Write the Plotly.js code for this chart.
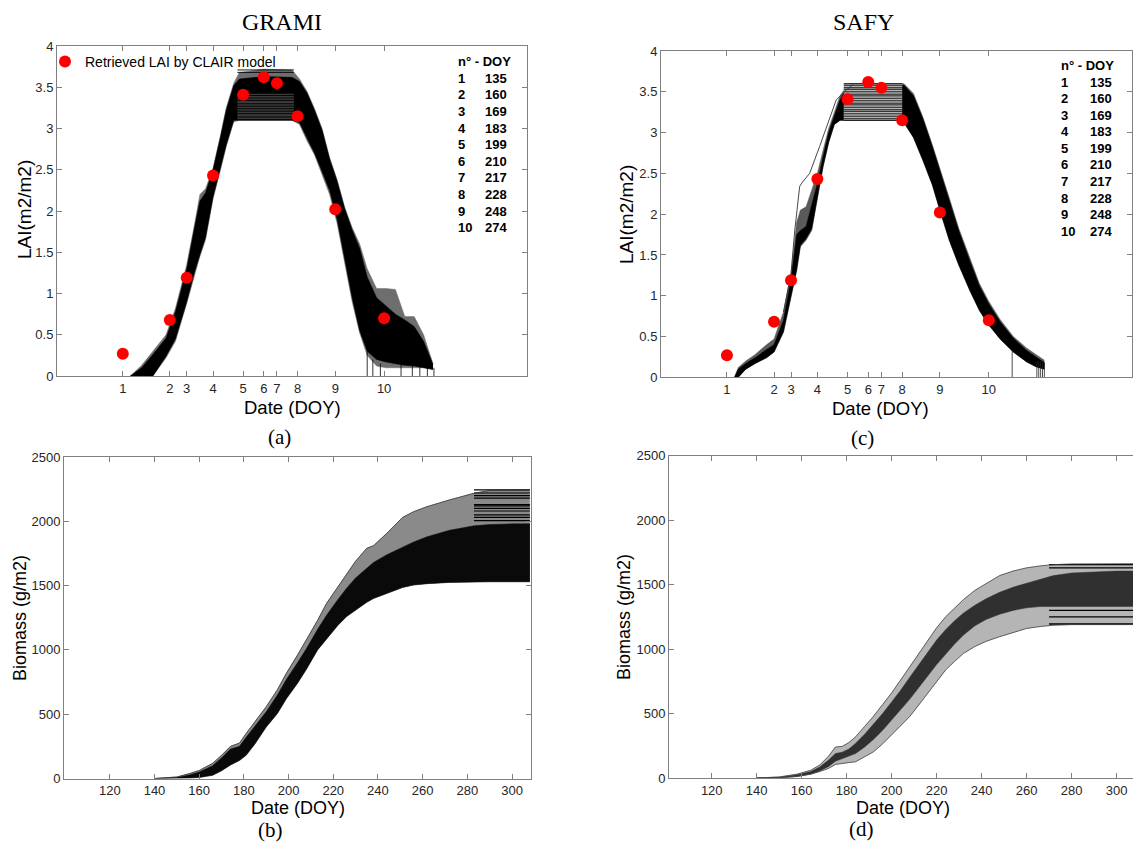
<!DOCTYPE html>
<html><head><meta charset="utf-8">
<script src="https://cdn.plot.ly/plotly-3.0.1.min.js"></script>
<style>html,body{margin:0;padding:0;overflow:hidden;background:#fff}</style>
</head><body><div id="chart" style="width:1150px;height:848px"></div>
<script>
// ---------- DATA ----------
const pointNum = [1,2,3,4,5,6,7,8,9,10];
const pointDOY = [135,160,169,183,199,210,217,228,248,274];
const retrievedLAI = [0.27,0.68,1.19,2.43,3.41,3.62,3.55,3.15,2.02,0.70];

// GRAMI LAI ensemble (envelopes)
const doyA = [139,145,151,158,163,169,173,176,179,183,187,190,194,197,210,225,229,233,237,241,245,249,253,257,261,265,270,275,280,285,290,295,300];
const laiA_outerLo = [0,0,0,0.22,0.42,0.88,1.22,1.45,1.65,2.15,2.5,2.78,3.08,3.1,3.1,3.1,3.05,2.85,2.68,2.45,2.2,1.85,1.38,0.9,0.52,0.25,0.12,0.1,0.1,0.1,0.1,0.1,0.08];
const laiA_outerHi = [0,0.13,0.3,0.5,0.82,1.35,1.82,2.2,2.27,2.52,2.92,3.25,3.55,3.68,3.72,3.71,3.6,3.45,3.24,3.0,2.65,2.38,2.05,1.8,1.6,1.3,1.06,1.06,1.05,0.72,0.72,0.5,0.15];
const laiA_coreLo = [0,0,0,0.24,0.45,0.9,1.25,1.47,1.68,2.17,2.52,2.8,3.1,3.1,3.1,3.1,3.07,2.88,2.7,2.48,2.25,1.9,1.42,0.95,0.55,0.3,0.2,0.17,0.15,0.13,0.12,0.1,0.08];
const laiA_coreHi = [0,0.1,0.26,0.46,0.78,1.3,1.78,2.12,2.22,2.5,2.9,3.22,3.52,3.6,3.63,3.62,3.57,3.43,3.22,2.98,2.63,2.36,2.03,1.77,1.55,1.2,0.95,0.85,0.75,0.68,0.6,0.42,0.14];
const plateauA = {start:196, end:226, lo:3.1, hi:3.42};
const plateauLevelsA = [3.11,3.14,3.18,3.21,3.24,3.27,3.3,3.34,3.37,3.4,3.68,3.71];
const dropA_doy = [265,268,272,283,289,293,297,300.5];
const dropA_from = [0.3,0.2,0.15,0.15,0.2,0.15,0.1,0.1];

// SAFY LAI ensemble
const doyC = [139,141,145,150,156,160,165,169,172,174,177,180,183,186,189,192,195,198,200,227,229,234,239,244,248,253,258,264,269,274,280,287,294,299,303.5];
const laiC_outerLo = [0,0,0.1,0.17,0.24,0.31,0.55,1.0,1.3,1.6,1.68,1.8,2.2,2.58,2.88,3.1,3.15,3.15,3.15,3.15,3.12,2.94,2.66,2.36,2.05,1.68,1.38,1.06,0.82,0.64,0.47,0.31,0.19,0.13,0.1];
const laiC_outerHi = [0,0.12,0.2,0.28,0.4,0.47,0.8,1.27,1.9,2.05,2.09,2.3,2.5,2.78,3.05,3.25,3.45,3.55,3.6,3.6,3.6,3.48,3.19,2.85,2.57,2.2,1.83,1.45,1.15,0.93,0.71,0.5,0.36,0.28,0.21];
const laiC_coreLo = [0,0,0.1,0.17,0.24,0.31,0.56,1.0,1.32,1.62,1.7,1.82,2.2,2.58,2.88,3.1,3.15,3.15,3.15,3.15,3.12,2.94,2.66,2.36,2.05,1.68,1.38,1.06,0.82,0.64,0.47,0.31,0.19,0.13,0.1];
const laiC_coreHi = [0,0.1,0.17,0.24,0.34,0.4,0.7,1.2,1.75,1.8,1.85,2.1,2.38,2.7,3.0,3.2,3.4,3.52,3.58,3.58,3.58,3.45,3.17,2.83,2.53,2.18,1.8,1.42,1.12,0.9,0.68,0.48,0.33,0.25,0.18];
const plateauC = {start:197, end:228, lo:3.15, hi:3.6};
const plateauLevelsC = [3.15,3.17,3.2,3.23,3.26,3.28,3.31,3.34,3.36,3.39,3.42,3.45,3.47,3.5,3.53,3.55,3.58,3.6];
const outlierC_doy = [165,169,171,173.6,175.3,178.9,184.2,189.5,193,198.3,202];
const outlierC_lai = [0.8,1.27,1.8,2.34,2.4,2.5,2.83,3.19,3.4,3.52,3.59];
const dropC_doy = [286.4,299.5,300.5,301.5,302.5,303.5];
const dropC_from = [0.33,0.2,0.2,0.2,0.19,0.18];

// GRAMI biomass ensemble
const doyB = [140,150,156,160,166,170,174,178,181,185,190,195,199,204,208,213,217,222,226,230,235,238,244,251,256,262,272,283,290,300,308];
const bioB_lo = [0,0,3,8,25,60,105,140,180,270,400,505,620,740,850,1000,1085,1190,1260,1310,1370,1400,1440,1485,1505,1515,1525,1530,1530,1530,1530];
const bioB_hi = [0,12,40,62,118,180,250,275,350,440,558,690,818,960,1077,1230,1362,1490,1596,1690,1790,1810,1907,2030,2075,2114,2166,2218,2240,2245,2245];
const bioB_coreHi = [0,8,30,50,100,160,230,250,320,410,520,650,770,900,1010,1160,1270,1390,1480,1560,1640,1680,1740,1800,1840,1880,1930,1965,1975,1980,1980];
const tailLevelsB = [2005,2030,2050,2080,2100,2120,2130,2180,2200,2220,2245];
const tailB = {start:283, end:308};

// SAFY biomass ensemble
const doyD = [140,150,158,164,168,172,175,178,181,184,188,192,196,200,204,208,212,216,220,224,228,232,237,242,248,254,260,266,272,280,290,300,310];
const bioD_lo = [0,2,12,30,50,75,105,114,120,126,165,204,265,334,400,476,565,657,750,838,905,967,1020,1060,1096,1130,1160,1175,1185,1190,1190,1190,1190];
const bioD_hi = [0,8,30,60,100,170,240,245,275,320,400,480,570,660,760,860,965,1070,1165,1250,1320,1385,1455,1510,1570,1605,1630,1645,1655,1660,1662,1662,1662];
const bioD_coreLo = [0,2,12,30,55,90,130,150,165,190,240,300,370,450,530,610,700,790,880,960,1040,1110,1180,1230,1270,1300,1320,1330,1330,1330,1330,1330,1330];
const bioD_coreHi = [0,6,25,50,85,140,190,200,225,270,340,420,500,590,680,780,880,980,1070,1150,1220,1280,1340,1390,1440,1480,1510,1540,1570,1590,1600,1605,1605];
const tailLevelsD = [1195,1250,1300,1630,1655];
const tailD = {start:270, end:310};

const bioTicks = [120,140,160,180,200,220,240,260,280,300];

// ---------- DRAWING ----------
const W = 1150, H = 848;
const PX = v => v / W, PY = v => 1 - v / H;
const FONT = 'Arial, "Liberation Sans", sans-serif';
const SERIF = '"Liberation Serif", "Times New Roman", serif';

function band(xa, ya, x, lo, hi, color) {
  return [
    {type:'scatter', mode:'lines', x:x, y:lo, xaxis:xa, yaxis:ya, line:{color:color, width:0.5}, hoverinfo:'skip', showlegend:false},
    {type:'scatter', mode:'lines', x:x, y:hi, xaxis:xa, yaxis:ya, fill:'tonexty', fillcolor:color, line:{color:color, width:0.5}, hoverinfo:'skip', showlegend:false}
  ];
}
function levels(xa, ya, lv, x0, x1, color, w) {
  const x = [], y = [];
  lv.forEach(l => { x.push(x0, x1, null); y.push(l, l, null); });
  return {type:'scatter', mode:'lines', x, y, xaxis:xa, yaxis:ya, line:{color, width:w}, hoverinfo:'skip', showlegend:false};
}
function drops(xa, ya, dx, from, color) {
  const x = [], y = [];
  dx.forEach((d, i) => { x.push(d, d, null); y.push(from[i], 0, null); });
  return {type:'scatter', mode:'lines', x, y, xaxis:xa, yaxis:ya, line:{color, width:0.8}, hoverinfo:'skip', showlegend:false};
}
function rect(xa, ya, p, color) {
  return {type:'scatter', mode:'lines', x:[p.start,p.end,p.end,p.start,p.start], y:[p.lo,p.lo,p.hi,p.hi,p.lo],
    xaxis:xa, yaxis:ya, fill:'toself', fillcolor:color, line:{width:0, color:color}, hoverinfo:'skip', showlegend:false};
}
function line(xa, ya, x, y, color, w) {
  return {type:'scatter', mode:'lines', x, y, xaxis:xa, yaxis:ya, line:{color, width:w}, hoverinfo:'skip', showlegend:false};
}
function dots(xa, ya, legend) {
  return {type:'scatter', mode:'markers', x:pointDOY, y:retrievedLAI, xaxis:xa, yaxis:ya,
    marker:{color:'#ff0000', size:12}, name:'Retrieved LAI by CLAIR model', showlegend:legend, hoverinfo:'x+y'};
}

const traces = [].concat(
  // (a) GRAMI LAI
  band('x','y', doyA, laiA_outerLo, laiA_outerHi, '#6e6e6e'),
  band('x','y', doyA, laiA_coreLo, laiA_coreHi, '#000000'),
  [rect('x','y', plateauA, '#3a3a3a'),
   levels('x','y', plateauLevelsA, plateauA.start, plateauA.end, '#000', 0.9),
   drops('x','y', dropA_doy, dropA_from, '#000')],
  // (c) SAFY LAI
  band('x2','y2', doyC, laiC_outerLo, laiC_outerHi, '#5a5a5a'),
  band('x2','y2', doyC, laiC_coreLo, laiC_coreHi, '#000000'),
  [rect('x2','y2', plateauC, '#b4b4b4'),
   levels('x2','y2', plateauLevelsC, plateauC.start, plateauC.end, '#111', 0.9),
   line('x2','y2', outlierC_doy, outlierC_lai, '#333', 0.9),
   drops('x2','y2', dropC_doy, dropC_from, '#222')],
  // (b) GRAMI biomass
  band('x3','y3', doyB, bioB_lo, bioB_hi, '#8a8a8a'),
  band('x3','y3', doyB, bioB_lo, bioB_coreHi, '#0a0a0a'),
  [levels('x3','y3', tailLevelsB, tailB.start, tailB.end, '#000', 1.2),
   line('x3','y3', doyB, bioB_hi, '#333', 0.8)],
  // (d) SAFY biomass
  band('x4','y4', doyD, bioD_lo, bioD_hi, '#b5b5b5'),
  band('x4','y4', doyD, bioD_coreLo, bioD_coreHi, '#303030'),
  [levels('x4','y4', tailLevelsD, tailD.start, tailD.end, '#000', 1.4),
   line('x4','y4', doyD, bioD_hi, '#444', 0.8),
   line('x4','y4', doyD, bioD_lo, '#444', 0.8)],
  [dots('x','y', true), dots('x2','y2', false)]
);

function axis(domain, range, extra) {
  return Object.assign({
    domain, range, showline:true, linecolor:'#808080', linewidth:1, mirror:'ticks',
    ticks:'inside', ticklen:5, tickcolor:'#808080', showgrid:false, zeroline:false, fixedrange:true,
    tickfont:{family:FONT, size:13, color:'#262626'}
  }, extra || {});
}
const laiX = {tickmode:'array', tickvals:pointDOY, ticktext:pointNum.map(String)};
const laiY = {tickmode:'linear', tick0:0, dtick:0.5};
const bioX = {tickmode:'array', tickvals:bioTicks, ticktext:bioTicks.map(String)};
const bioY = {tickmode:'linear', tick0:0, dtick:500};

const ann = [];
function text(t, x, y, size, opts) {
  ann.push(Object.assign({text:t, x:PX(x), y:PY(y), xref:'paper', yref:'paper', showarrow:false,
    xanchor:'center', yanchor:'middle', font:{family:FONT, size:size, color:'#000'}}, opts || {}));
}
// titles & panel labels
text('GRAMI', 282, 22, 24, {font:{family:SERIF, size:24, color:'#000'}});
text('SAFY', 864, 22, 24, {font:{family:SERIF, size:24, color:'#000'}});
text('(a)', 279, 437, 21, {font:{family:SERIF, size:21, color:'#000'}});
text('(c)', 862, 438, 21, {font:{family:SERIF, size:21, color:'#000'}});
text('(b)', 270, 830, 21, {font:{family:SERIF, size:21, color:'#000'}});
text('(d)', 861, 829, 21, {font:{family:SERIF, size:21, color:'#000'}});
// axis titles
text('LAI(m2/m2)', 25, 210, 19, {textangle:-90});
text('Date (DOY)', 292, 407, 18.5);
text('LAI(m2/m2)', 626, 215, 19, {textangle:-90});
text('Date (DOY)', 880, 408, 18.5);
text('Biomass (g/m2)', 20, 618, 18, {textangle:-90});
text('Date (DOY)', 298, 808, 18);
text('Biomass (g/m2)', 624, 617, 18, {textangle:-90});
text('Date (DOY)', 903, 808, 18);
// tables
function table(x0, x1, y0, step) {
  const b = {family:FONT, size:13, color:'#000'};
  text('<b>n° - DOY</b>', x0, y0, 13, {xanchor:'left', font:b});
  pointNum.forEach((n, i) => {
    text('<b>' + n + '</b>', x0, y0 + step * (i + 1), 13, {xanchor:'left', font:b});
    text('<b>' + pointDOY[i] + '</b>', x1, y0 + step * (i + 1), 13, {xanchor:'left', font:b});
  });
}
table(456, 483, 61.7, 16.6);
table(1059, 1088, 65.7, 16.55);

const layout = {
  width:W, height:H, margin:{l:0, r:0, t:0, b:0}, paper_bgcolor:'#fff', plot_bgcolor:'#fff',
  showlegend:true,
  legend:{x:PX(45), y:PY(46), xanchor:'left', yanchor:'top', bgcolor:'rgba(0,0,0,0)', borderwidth:0,
    font:{family:FONT, size:14, color:'#000'}},
  xaxis:axis([PX(57), PX(527)], [100, 350], Object.assign({anchor:'y'}, laiX)),
  yaxis:axis([PY(376), PY(46)], [0, 4], Object.assign({anchor:'x'}, laiY)),
  xaxis2:axis([PX(661), PX(1132)], [100, 350], Object.assign({anchor:'y2'}, laiX)),
  yaxis2:axis([PY(377.3), PY(51)], [0, 4], Object.assign({anchor:'x2'}, laiY)),
  xaxis3:axis([PX(64), PX(531)], [99.5, 308.5], Object.assign({anchor:'y3'}, bioX)),
  yaxis3:axis([PY(778.5), PY(457)], [0, 2500], Object.assign({anchor:'x3'}, bioY)),
  xaxis4:axis([PX(669), PX(1139)], [101, 310], Object.assign({anchor:'y4'}, bioX)),
  yaxis4:axis([PY(778), PY(455.7)], [0, 2500], Object.assign({anchor:'x4'}, bioY)),
  annotations:ann
};
Plotly.newPlot('chart', traces, layout, {displayModeBar:false, staticPlot:true});
</script></body></html>
